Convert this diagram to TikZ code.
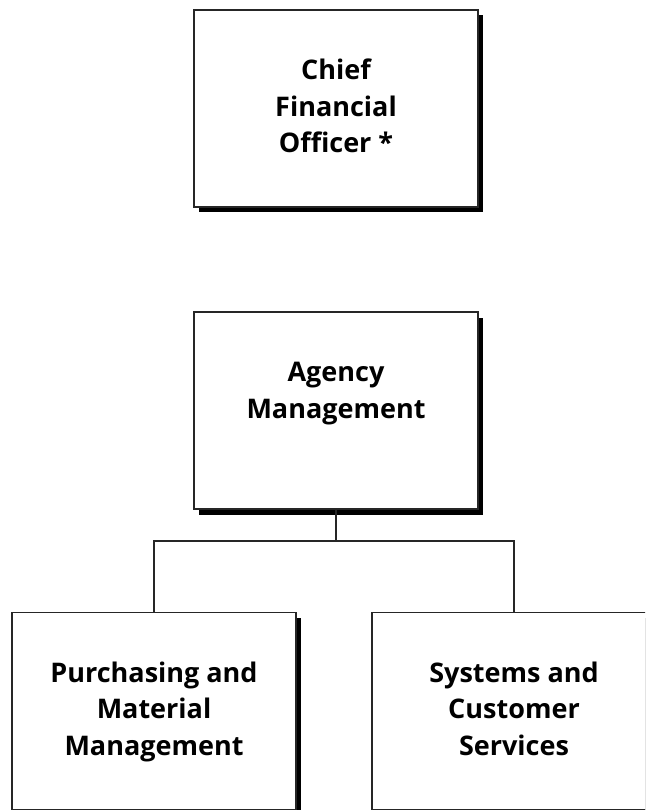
\documentclass[tikz,border=0pt]{standalone}
\usepackage{fontspec}
\setmainfont{Open Sans}
\begin{document}
\begin{tikzpicture}[x=1pt,y=-1pt,
  box/.style={draw=black!85,line width=1.4pt,fill=white,minimum width=284pt,minimum height=197pt,inner sep=0pt,outer sep=0pt},
  shadowbox/.style={fill=black,minimum width=284pt,minimum height=197pt,inner sep=0pt},
  txt/.style={anchor=base,align=center,font=\bfseries\fontsize{27}{36.5}\selectfont,inner sep=0pt},
  conn/.style={draw=black!85,line width=1.4pt}]
\clip (0,0) rectangle (645,810);
\fill[white] (0,0) rectangle (645,810);
% shadows
\node[shadowbox] (cfos) at (341,114) {};
\node[shadowbox] (ags) at (341,416) {};
\node[shadowbox] (pms) at (159,716) {};
\node[shadowbox] (scs) at (519,716) {};
% boxes
\node[box] (cfo) at (336,108.5) {};
\node[box] (ag) at (336,410.5) {};
\node[box] (pm) at (154,711) {};
\node[box] (sc) at (514,711) {};
% texts (anchored at baseline of last line)
\node[txt] (cfot) at (336,153) {Chief\\Financial\\Officer *};
\node[txt] (agt) at (336,418) {Agency\\Management};
\node[txt] (pmt) at (154,755) {Purchasing and\\Material\\Management};
\node[txt] (sct) at (514,755) {Systems and\\Customer\\Services};
% connectors
\coordinate (j) at (336,541);
\draw[conn] (ag.south) -- (j);
\draw[conn] (pm.north) |- (j) -| (sc.north);
\end{tikzpicture}
\end{document}
